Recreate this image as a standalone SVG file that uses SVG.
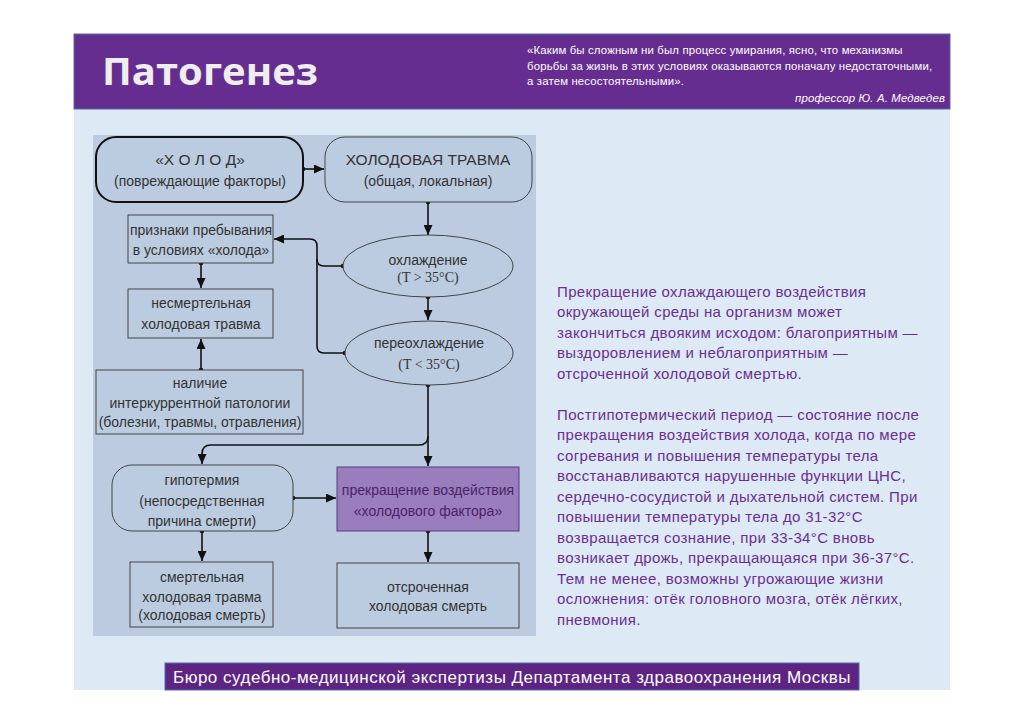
<svg xmlns="http://www.w3.org/2000/svg" width="1024" height="724" viewBox="0 0 1024 724">
<defs>
<style>
.dt{font-family:"Liberation Sans",Arial,sans-serif;font-size:14px;fill:#333;text-anchor:middle}
.big{font-size:15.5px}
.ser{font-family:"Liberation Serif","Times New Roman",serif;font-size:14px;fill:#333;text-anchor:middle}
.box{fill:#bccce0;stroke:#444;stroke-width:1}
.con{fill:none;stroke:#111;stroke-width:1.6}
.dot{fill:#111}
.rt{font-family:"Liberation Sans",Arial,sans-serif;font-size:15px;letter-spacing:0.35px;fill:#6b2f8f}
.q{font-family:"Liberation Sans",Arial,sans-serif;font-size:11.4px;letter-spacing:0.15px;fill:#fff}
</style>
<marker id="ah" markerUnits="userSpaceOnUse" markerWidth="10" markerHeight="9" refX="10" refY="4.5" orient="auto">
<path d="M0,0 L10,4.5 L0,9 z" fill="#111"/>
</marker>
</defs>
<rect x="0" y="0" width="1024" height="724" fill="#fff"/>
<rect x="74" y="34" width="876" height="656" fill="#dde9f5"/>
<g id="header">
<rect x="74" y="34" width="876" height="75" fill="#662d91" stroke="#4f6f9a" stroke-width="1"/>
<text x="102" y="85" font-family="'Open Sans','Liberation Sans',sans-serif" font-weight="bold" font-size="38" fill="#eeeeee" textLength="216" lengthAdjust="spacingAndGlyphs">Патогенез</text>
<text class="q" x="527" y="54">«Каким бы сложным ни был процесс умирания, ясно, что механизмы</text>
<text class="q" x="527" y="70">борьбы за жизнь в этих условиях оказываются поначалу недостаточными,</text>
<text class="q" x="527" y="85">а затем несостоятельными».</text>
<text class="q" x="945" y="102" text-anchor="end" font-style="italic">профессор Ю. А. Медведев</text>
</g>
<rect id="panel" x="93" y="135" width="443" height="501" fill="#bccbe0"/>
<g id="connectors">
<path class="con" d="M303,169 H324" marker-end="url(#ah)"/>
<path class="con" d="M428,202 V235" marker-end="url(#ah)"/>
<path class="con" d="M428,297 V320" marker-end="url(#ah)"/>
<path class="con" d="M343,266 H324 Q317,266 317,259 V246 Q317,239 310,239 H274" marker-end="url(#ah)"/>
<path class="con" d="M345,353 H324 Q317,353 317,346 V259"/>
<path class="con" d="M201,263 V288" marker-end="url(#ah)"/>
<path class="con" d="M201,370 V339" marker-end="url(#ah)"/>
<path class="con" d="M428,385 V466" marker-end="url(#ah)"/>
<path class="con" d="M428,436 Q428,445 419,445 H211 Q202,445 202,454 V464" marker-end="url(#ah)"/>
<path class="con" d="M293,498 H336" marker-end="url(#ah)"/>
<path class="con" d="M202,531 V561" marker-end="url(#ah)"/>
<path class="con" d="M428,531 V562" marker-end="url(#ah)"/>
<circle class="dot" cx="303" cy="169" r="2.3"/>
<circle class="dot" cx="428" cy="202" r="2.3"/>
<circle class="dot" cx="428" cy="297" r="2.3"/>
<circle class="dot" cx="343" cy="266" r="2.3"/>
<circle class="dot" cx="345" cy="353" r="2.3"/>
<circle class="dot" cx="201" cy="263" r="2.3"/>
<circle class="dot" cx="201" cy="370" r="2.3"/>
<circle class="dot" cx="428" cy="385" r="2.3"/>
<circle class="dot" cx="293" cy="498" r="2.3"/>
<circle class="dot" cx="202" cy="531" r="2.3"/>
<circle class="dot" cx="428" cy="531" r="2.3"/>
</g>
<g id="n-holod">
<rect x="96" y="137" width="207" height="65" rx="20" fill="#bccce0" stroke="#111" stroke-width="2"/>
<text class="dt big" x="200" y="165">«Х О Л О Д»</text>
<text class="dt" x="200" y="186">(повреждающие факторы)</text>
</g>
<g id="n-trauma">
<rect class="box" x="325" y="137" width="207" height="65" rx="20"/>
<text class="dt big" x="428" y="165">ХОЛОДОВАЯ ТРАВМА</text>
<text class="dt" x="428" y="186">(общая, локальная)</text>
</g>
<g id="n-priznaki">
<rect class="box" x="128" y="215" width="145" height="48"/>
<text class="dt" x="201" y="235">признаки пребывания</text>
<text class="dt" x="201" y="255">в условиях «холода»</text>
</g>
<g id="n-ohlazhd">
<ellipse class="box" cx="428" cy="266" rx="85" ry="31"/>
<text class="dt" x="428" y="265">охлаждение</text>
<text class="ser" x="428" y="282">(T &gt; 35°C)</text>
</g>
<g id="n-nesmert">
<rect class="box" x="128" y="289" width="145" height="49"/>
<text class="dt" x="201" y="308">несмертельная</text>
<text class="dt" x="201" y="329">холодовая травма</text>
</g>
<g id="n-pereohl">
<ellipse class="box" cx="429" cy="353" rx="84" ry="32"/>
<text class="dt" x="429" y="348">переохлаждение</text>
<text class="ser" x="429" y="369">(T &lt; 35°C)</text>
</g>
<g id="n-nalichie">
<rect class="box" x="96" y="370" width="207" height="64"/>
<text class="dt" x="200" y="388">наличие</text>
<text class="dt" x="200" y="408">интеркуррентной патологии</text>
<text class="dt" x="200" y="427">(болезни, травмы, отравления)</text>
</g>
<g id="n-gipoterm">
<rect class="box" x="112" y="465" width="181" height="66" rx="20"/>
<text class="dt" x="202" y="485">гипотермия</text>
<text class="dt" x="202" y="506">(непосредственная</text>
<text class="dt" x="202" y="526">причина смерти)</text>
</g>
<g id="n-prekr">
<rect x="337" y="467" width="182" height="64" fill="#9a7dbd" stroke="#5a3a85" stroke-width="1"/>
<text class="dt" x="428" y="495" style="fill:#4b2266">прекращение воздействия</text>
<text class="dt" x="428" y="516" style="fill:#4b2266">«холодового фактора»</text>
</g>
<g id="n-smert">
<rect class="box" x="130" y="562" width="143" height="65"/>
<text class="dt" x="202" y="582">смертельная</text>
<text class="dt" x="202" y="602">холодовая травма</text>
<text class="dt" x="202" y="620">(холодовая смерть)</text>
</g>
<g id="n-otsroch">
<rect class="box" x="337" y="563" width="182" height="65"/>
<text class="dt" x="428" y="592">отсроченная</text>
<text class="dt" x="428" y="611">холодовая смерть</text>
</g>
<g id="righttext">
<text class="rt" x="557" y="297">Прекращение охлаждающего воздействия</text>
<text class="rt" x="557" y="317">окружающей среды на организм может</text>
<text class="rt" x="557" y="338">закончиться двояким исходом: благоприятным —</text>
<text class="rt" x="557" y="358">выздоровлением и неблагоприятным —</text>
<text class="rt" x="557" y="379">отсроченной холодовой смертью.</text>
<text class="rt" x="557" y="420">Постгипотермический период — состояние после</text>
<text class="rt" x="557" y="440">прекращения воздействия холода, когда по мере</text>
<text class="rt" x="557" y="461">согревания и повышения температуры тела</text>
<text class="rt" x="557" y="481">восстанавливаются нарушенные функции ЦНС,</text>
<text class="rt" x="557" y="502">сердечно-сосудистой и дыхательной систем. При</text>
<text class="rt" x="557" y="522">повышении температуры тела до 31-32°С</text>
<text class="rt" x="557" y="543">возвращается сознание, при 33-34°С вновь</text>
<text class="rt" x="557" y="563">возникает дрожь, прекращающаяся при 36-37°С.</text>
<text class="rt" x="557" y="584">Тем не менее, возможны угрожающие жизни</text>
<text class="rt" x="557" y="604">осложнения: отёк головного мозга, отёк лёгких,</text>
<text class="rt" x="557" y="625">пневмония.</text>
</g>
<g id="footer">
<rect x="165" y="663" width="694" height="27" fill="#5e2484" stroke="#4a6fa5" stroke-width="1"/>
<text x="512" y="683" text-anchor="middle" font-family="'Liberation Sans',Arial,sans-serif" font-size="17" letter-spacing="0.5" fill="#fff">Бюро судебно-медицинской экспертизы Департамента здравоохранения Москвы</text>
</g>
</svg>
